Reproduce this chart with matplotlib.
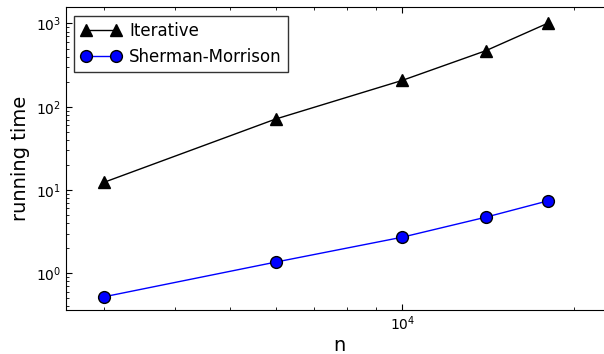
import matplotlib
matplotlib.use("Agg")
import matplotlib.pyplot as plt
from matplotlib.ticker import NullFormatter

n = [3000, 6000, 10000, 14000, 18000]
iterative = [12.3, 71, 207, 470, 1010]
sherman_morrison = [0.52, 1.36, 2.71, 4.71, 7.41]

fig = plt.figure(figsize=(6.04, 3.54), dpi=100)
ax = fig.add_axes([0.1088, 0.1243, 0.905, 0.855])

ax.plot(n, iterative, color="black", lw=1.0, marker="^", markersize=8.5,
        markerfacecolor="black", label="Iterative")
ax.plot(n, sherman_morrison, color="blue", lw=1.0, marker="o", markersize=8.5,
        markerfacecolor="blue", markeredgecolor="black", label="Sherman-Morrison")

ax.set_xscale("log")
ax.set_yscale("log")
ax.set_xlim(2576, 23320)
ax.set_ylim(0.362, 1561)
ax.xaxis.set_minor_formatter(NullFormatter())

ax.tick_params(which="both", direction="in", top=True, right=True, labelsize=10)
ax.tick_params(which="major", length=4)
ax.tick_params(which="minor", length=2)

ax.set_xlabel("n", fontsize=14, labelpad=2)
ax.set_ylabel("running time", fontsize=14)

leg = ax.legend(loc="upper left", numpoints=2, fontsize=12, fancybox=False,
                handlelength=2.4, handletextpad=0.5, borderaxespad=0.5,
                borderpad=0.4, labelspacing=0.45)
leg.get_frame().set_edgecolor("black")

fig.savefig("out.png", dpi=100)
